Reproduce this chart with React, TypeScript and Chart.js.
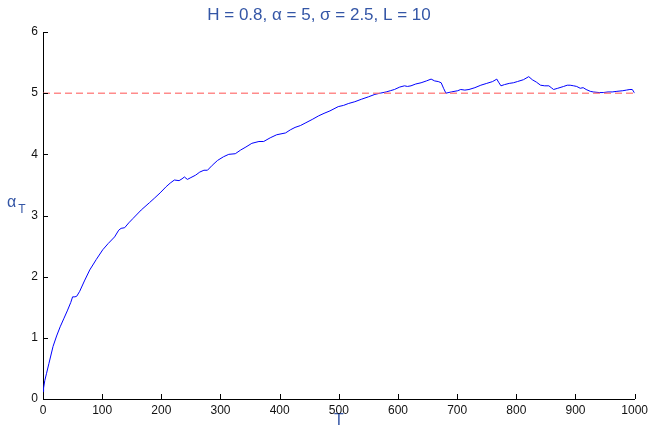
import React, { useEffect, useRef } from "react";
import { Chart, registerables } from "chart.js";

Chart.register(...registerables);

// Estimator path alpha_T against sample size T
const steps = [
  0, 1, 3, 6, 10, 17, 23, 29, 35, 41, 47, 50, 54, 57, 62, 70, 79, 90, 101, 110,
  121, 128, 132, 138, 145, 152, 166, 180, 188, 198, 208, 215, 222, 230, 235, 239,
  244, 250, 258, 265, 272, 278, 286, 295, 305, 314, 325, 334, 343, 353, 365, 373,
  384, 395, 410, 418, 426, 435, 443, 455, 466, 475, 485, 499, 508, 516, 527, 538,
  550, 561, 570, 580, 587, 594, 603, 611, 616, 622, 630, 639, 648, 656, 662, 668,
  673, 677, 681, 690, 701, 706, 713, 720, 730, 740, 750, 760, 767, 770, 774, 780,
  788, 795, 802, 812, 821, 827, 834, 841, 848, 855, 859, 863, 870, 880, 886, 891,
  897, 902, 908, 913, 918, 925, 930, 940, 947, 955, 962, 970, 980, 986, 992, 996,
  1000,
];
const alphaT = [
  0.12, 0.18, 0.3, 0.42, 0.58, 0.86, 1.03, 1.18, 1.31, 1.44, 1.58, 1.67, 1.67, 1.68,
  1.76, 1.93, 2.11, 2.28, 2.44, 2.54, 2.65, 2.76, 2.79, 2.8, 2.88, 2.95, 3.09, 3.21,
  3.28, 3.37, 3.47, 3.53, 3.58, 3.57, 3.6, 3.63, 3.59, 3.62, 3.66, 3.71, 3.74, 3.74,
  3.82, 3.9, 3.96, 4.0, 4.01, 4.07, 4.12, 4.18, 4.21, 4.21, 4.27, 4.32, 4.35, 4.4,
  4.44, 4.47, 4.51, 4.57, 4.63, 4.67, 4.71, 4.78, 4.8, 4.83, 4.86, 4.9, 4.94, 4.98,
  5.0, 5.02, 5.04, 5.06, 5.1, 5.12, 5.11, 5.12, 5.15, 5.17, 5.2, 5.23, 5.2, 5.19,
  5.17, 5.08, 5.0, 5.02, 5.04, 5.06, 5.05, 5.06, 5.09, 5.13, 5.16, 5.19, 5.23, 5.18,
  5.12, 5.14, 5.16, 5.17, 5.19, 5.22, 5.27, 5.22, 5.18, 5.13, 5.12, 5.12, 5.09, 5.06,
  5.08, 5.11, 5.13, 5.13, 5.12, 5.11, 5.08, 5.09, 5.06, 5.03, 5.02, 5.01, 5.01, 5.02,
  5.02, 5.03, 5.04, 5.05, 5.06, 5.06, 5.0,
];

const trueAlpha = 5;
const xRange = [0, 1000];
const yRange = [0, 6];
const xTickStep = 100;
const yTickStep = 1;

const titleText = "H = 0.8, \u03b1 = 5, \u03c3 = 2.5, L = 10";
const xTitle = "T";
const yTitleMain = "\u03b1";
const yTitleSub = "T";

const labelBlue = "#3456a6";
const fontFamily = "Arial, 'Liberation Sans', Helvetica, sans-serif";

// MATLAB-style inward tick marks on the left and bottom axes
const inwardTicks = {
  id: "inwardTicks",
  afterDatasetsDraw(chart: any) {
    const { ctx, scales } = chart;
    const xs = scales.x;
    const ys = scales.y;
    const len = 5;
    ctx.save();
    ctx.strokeStyle = "#000";
    ctx.lineWidth = 1;
    ctx.beginPath();
    xs.ticks.forEach((t: any) => {
      const px = Math.round(xs.getPixelForValue(t.value)) + 0.5;
      ctx.moveTo(px, ys.bottom);
      ctx.lineTo(px, ys.bottom - len);
    });
    ys.ticks.forEach((t: any) => {
      const py = Math.round(ys.getPixelForValue(t.value)) + 0.5;
      ctx.moveTo(xs.left, py);
      ctx.lineTo(xs.left + len, py);
    });
    ctx.stroke();
    ctx.restore();
  },
};

// y-axis title with a subscript
const subscriptTitle = {
  id: "subscriptTitle",
  afterDraw(chart: any) {
    const { ctx, scales } = chart;
    const ys = scales.y;
    const cy = (ys.top + ys.bottom) / 2 - 14;
    ctx.save();
    ctx.fillStyle = labelBlue;
    ctx.textBaseline = "alphabetic";
    ctx.textAlign = "left";
    ctx.font = `16px ${fontFamily}`;
    const x0 = 7;
    ctx.fillText(yTitleMain, x0, cy + 5);
    const w = ctx.measureText(yTitleMain).width;
    ctx.font = `12px ${fontFamily}`;
    ctx.fillText(yTitleSub, x0 + w + 2, cy + 11);
    ctx.restore();
  },
};

export default function App() {
  const ref = useRef<HTMLCanvasElement | null>(null);

  useEffect(() => {
    if (!ref.current) return;
    const curve = steps.map((t, i) => ({ x: t, y: alphaT[i] }));
    const target = [
      { x: xRange[0], y: trueAlpha },
      { x: xRange[1], y: trueAlpha },
    ];
    const chart = new Chart(ref.current, {
      type: "line",
      data: {
        datasets: [
          {
            data: target,
            borderColor: "rgba(255, 110, 110, 0.8)",
            borderWidth: 1.5,
            borderDash: [7, 4],
            pointRadius: 0,
            fill: false,
          },
          {
            data: curve,
            borderColor: "#0000ff",
            borderWidth: 1,
            pointRadius: 0,
            tension: 0,
            fill: false,
          },
        ],
      },
      options: {
        animation: false,
        responsive: false,
        devicePixelRatio: 1,
        events: [],
        layout: { padding: { left: 0, right: 14, top: 0, bottom: 0 } },
        plugins: {
          legend: { display: false },
          tooltip: { enabled: false },
          title: {
            display: true,
            text: titleText,
            color: labelBlue,
            font: { family: fontFamily, size: 17, weight: "normal", lineHeight: 1.2 },
            padding: { top: 5, bottom: 6.6 },
          },
        },
        scales: {
          x: {
            type: "linear",
            min: xRange[0],
            max: xRange[1],
            grid: { display: false, drawTicks: false },
            border: { display: true, color: "#000", width: 1 },
            ticks: {
              stepSize: xTickStep,
              padding: 4,
              color: "#111",
              font: { family: fontFamily, size: 12 },
              maxRotation: 0,
              callback: (v: any) => String(v),
            },
            title: {
              display: true,
              text: xTitle,
              color: labelBlue,
              font: { family: fontFamily, size: 16, weight: "normal", lineHeight: 0.8 },
              padding: { top: 0, bottom: 0 },
            },
            afterFit(scale: any) {
              scale.height = 28;
            },
          },
          y: {
            type: "linear",
            min: yRange[0],
            max: yRange[1],
            grid: { display: false, drawTicks: false },
            border: { display: true, color: "#000", width: 1 },
            ticks: {
              stepSize: yTickStep,
              padding: 5,
              color: "#111",
              font: { family: fontFamily, size: 12 },
              callback: (v: any) => String(v),
            },
            afterFit(scale: any) {
              scale.width = 43;
            },
          },
        },
      },
      plugins: [inwardTicks, subscriptTitle],
    } as any);
    return () => chart.destroy();
  }, []);

  return (
    <div
      style={{
        position: "fixed",
        left: 0,
        top: 0,
        width: 652,
        height: 427,
        background: "#fff",
      }}
    >
      <canvas ref={ref} width={652} height={427} />
    </div>
  );
}
